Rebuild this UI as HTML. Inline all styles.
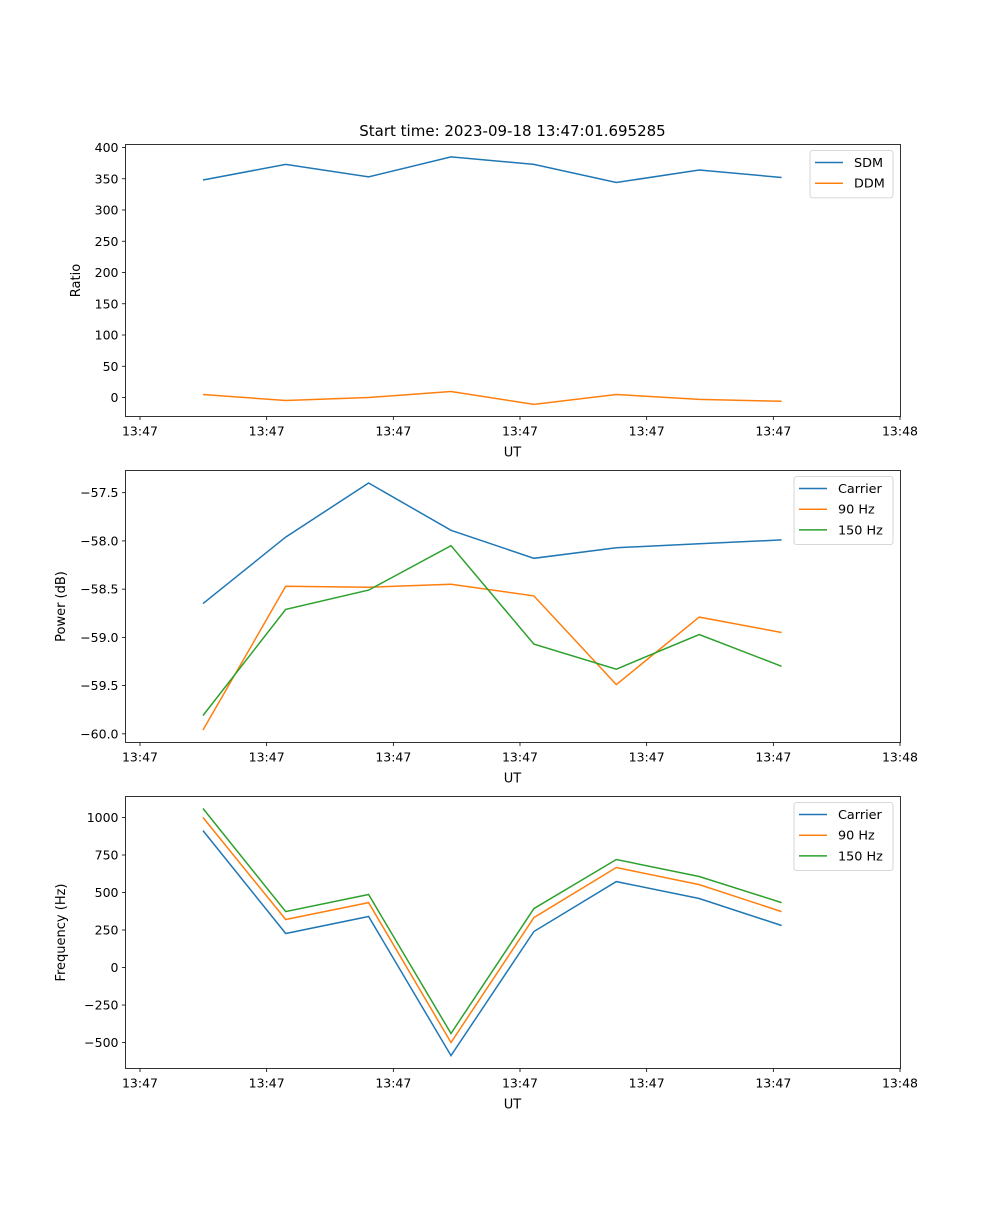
<!DOCTYPE html>
<html><head><meta charset="utf-8"><style>
body{margin:0;background:#fff}
svg text{font-family:"DejaVu Sans","Liberation Sans",sans-serif;fill:#000}
</style></head><body>
<svg id="fig" width="1000" height="1200" viewBox="0 0 1000 1200" xmlns="http://www.w3.org/2000/svg">
<rect width="1000" height="1200" fill="#fff"/>
<text x="512.5" y="136" font-size="15" text-anchor="middle">Start time: 2023-09-18 13:47:01.695285</text>
</svg>
<script>
const times = [4.97, 11.5, 18.05, 24.55, 31.1, 37.6, 44.15, 50.65];
const xTicks = [0, 10, 20, 30, 40, 50, 60];
const xTickLabels = ["13:47","13:47","13:47","13:47","13:47","13:47","13:48"];
const sdm = [348, 373, 353, 385, 373, 344, 364, 352];
const ddm = [4.8, -4.8, 0, 9.6, -11, 4.8, -3, -6];
const powCarrier = [-58.65, -57.96, -57.40, -57.89, -58.18, -58.07, -58.03, -57.99];
const pow90 = [-59.96, -58.47, -58.48, -58.45, -58.57, -59.49, -58.79, -58.95];
const pow150 = [-59.81, -58.71, -58.51, -58.05, -59.07, -59.33, -58.97, -59.30];
const freqCarrier = [913, 227, 340, -587, 240, 573, 460, 280];
const freq90 = [1000, 320, 433, -500, 333, 667, 553, 373];
const freq150 = [1060, 373, 487, -440, 393, 720, 607, 433];
const ratioTicks = [0,50,100,150,200,250,300,350,400];
const powTicks = [-60.0,-59.5,-59.0,-58.5,-58.0,-57.5];
const freqTicks = [-500,-250,0,250,500,750,1000];

const NS="http://www.w3.org/2000/svg";
const svg=document.getElementById('fig');
function el(tag,attrs,parent){const e=document.createElementNS(NS,tag);for(const k in attrs)e.setAttribute(k,attrs[k]);(parent||svg).appendChild(e);return e;}
const X0=125.5,X1=900.5;
function xs(t){return 140+(t-0)*(900-140)/60;}
function panel(name,top,bot,ymin,ymax,ticks,fmt,ylabel,series,legend){
  const g=el('g',{});
  
  
  const ys=v=>bot-(v-ymin)/(ymax-ymin)*(bot-top);
  ticks.forEach(v=>{const y=ys(v);
    el('line',{x1:X0-3.5,x2:X0,y1:y,y2:y,stroke:'#000','stroke-width':0.8},g);
    const t=el('text',{x:X0-7,y:y+4.5,'font-size':12.5,'text-anchor':'end'},g);
    
    
    t.textContent=fmt(v);});
  xTicks.forEach((v,i)=>{const x=xs(v);
    el('line',{x1:x,x2:x,y1:bot,y2:bot+3.5,stroke:'#000','stroke-width':0.8},g);
    const t=el('text',{x:x,y:bot+19,'font-size':12.5,'text-anchor':'middle'},g);
    
    
    t.textContent=xTickLabels[i];});
  const xl=el('text',{x:512.5,y:bot+40,'font-size':13,'text-anchor':'middle'},g);
  
  
  xl.textContent='UT';
  const yx=name==='ratio'?80:65;
  const yl=el('text',{x:yx,y:(top+bot)/2,'font-size':13,'text-anchor':'middle',transform:`rotate(-90 ${yx} ${(top+bot)/2})`},g);
  
  
  yl.textContent=ylabel;
  series.forEach(s=>{
    const p=el('polyline',{points:s.vals.map((v,i)=>xs(times[i]).toFixed(1)+','+ys(v).toFixed(1)).join(' '),fill:'none',stroke:s.c,'stroke-width':1.5},g);
    
    
  });
  el('rect',{x:X0,y:top,width:X1-X0,height:bot-top,fill:'none',stroke:'#000','stroke-width':0.8},g);
  const lw=legend.w,lx=893-lw,ly=top+6,lh=6+series.length*20.7;
  const lg=el('g',{},g);
  
  
  el('rect',{x:lx,y:ly,width:lw,height:lh,rx:2.5,fill:'#fff','fill-opacity':0.8,stroke:'#ccc','stroke-width':0.8},lg);
  series.forEach((s,i)=>{const yy=ly+12+i*20.7;
    el('line',{x1:lx+5,x2:lx+33,y1:yy,y2:yy,stroke:s.c,'stroke-width':1.5},lg);
    const t=el('text',{x:lx+44,y:yy+4.5,'font-size':12.8},lg);
    
    
    t.textContent=s.n;});
}
const B='#1f77b4',O='#ff7f0e',G='#2ca02c';
panel('ratio',144.5,416.5,-30.4,404.8,ratioTicks,v=>String(v),'Ratio',[{n:'SDM',vals:sdm,c:B},{n:'DDM',vals:ddm,c:O}],{w:83});
panel('power',470.5,742.5,-60.09,-57.27,powTicks,v=>(v<0?'\u2212':'')+Math.abs(v).toFixed(1),'Power (dB)',[{n:'Carrier',vals:powCarrier,c:B},{n:'90 Hz',vals:pow90,c:O},{n:'150 Hz',vals:pow150,c:G}],{w:99});
panel('frequency',796.5,1068.5,-673,1140,freqTicks,v=>(v<0?'\u2212':'')+Math.abs(v),'Frequency (Hz)',[{n:'Carrier',vals:freqCarrier,c:B},{n:'90 Hz',vals:freq90,c:O},{n:'150 Hz',vals:freq150,c:G}],{w:99});
</script>
</body></html>
